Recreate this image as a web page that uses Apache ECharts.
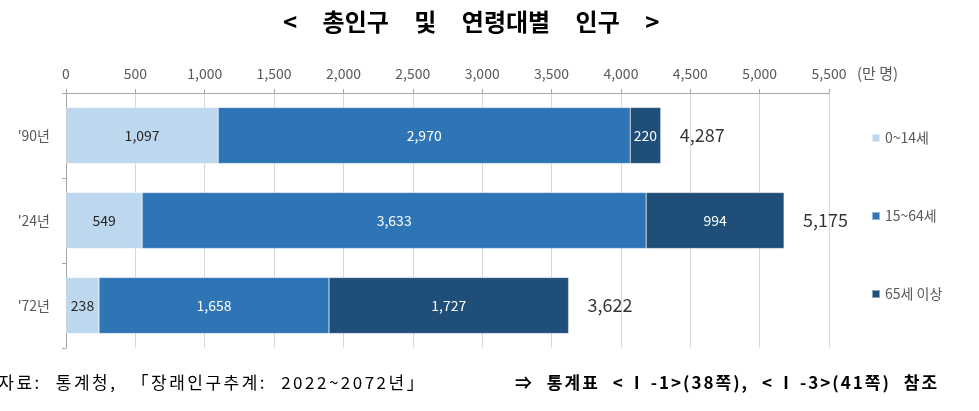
<!DOCTYPE html>
<html>
<head>
<meta charset="utf-8">
<script src="https://cdn.jsdelivr.net/npm/echarts@6/dist/echarts.min.js"></script>
<style>
  html, body { margin: 0; padding: 0; background: #fff; }
  #chart { width: 979px; height: 411px; }
</style>
</head>
<body>
<div id="chart"></div>
<script>
const years = ["'90년", "'24년", "'72년"];
const age0to14 = [1097, 549, 238];
const age15to64 = [2970, 3633, 1658];
const age65plus = [220, 994, 1727];
const totals = [4287, 5175, 3622];
const seriesNames = ['0~14세', '15~64세', '65세 이상'];
const xTicks = [0, 500, 1000, 1500, 2000, 2500, 3000, 3500, 4000, 4500, 5000, 5500];

const titleText = '< 총인구 및 연령대별 인구 >';
const sourceText = '자료: 통계청, 「장래인구추계: 2022~2072년」';
const refText = '⇒ 통계표 <Ⅰ-1>(38쪽), <Ⅰ-3>(41쪽) 참조';

const font = '"Noto Sans CJK KR", "Noto Sans", sans-serif';
const chart = echarts.init(document.getElementById('chart'));

// wrap every character in a rich token so the original's wide letter spacing can be copied
function spaced(text, wideChars) {
  return text.split('').map(ch => (wideChars.includes(ch) ? '{w|' : '{c|') + ch + '}').join('');
}

function barSeries(name, values, color, labelColor) {
  return {
    name: name,
    type: 'bar',
    stack: 'pop',
    barWidth: 56,
    data: values,
    itemStyle: { color: color, borderColor: 'rgba(255,255,255,0.5)', borderWidth: 0.5 },
    label: {
      show: true,
      position: 'inside',
      color: labelColor,
      fontFamily: font,
      fontSize: 14,
      formatter: p => p.value.toLocaleString('en-US')
    }
  };
}

const option = {
  animation: false,
  grid: { left: 66, right: 150, top: 93, bottom: 63 },
  legend: {
    data: seriesNames,
    orient: 'vertical',
    left: 866,
    top: 126,
    itemGap: 64,
    itemWidth: 8,
    itemHeight: 8,
    icon: 'rect',
    textStyle: { color: '#595959', fontSize: 14, fontFamily: font }
  },
  xAxis: {
    type: 'value',
    position: 'top',
    min: 0,
    max: 5500,
    interval: 500,
    axisLine: { show: true, lineStyle: { color: '#A6A6A6' } },
    axisTick: { show: true, length: 4, lineStyle: { color: '#A6A6A6' } },
    splitLine: { show: true, lineStyle: { color: '#D9D9D9' } },
    axisLabel: {
      color: '#595959',
      fontSize: 14,
      fontFamily: font,
      margin: 12,
      formatter: v => xTicks.includes(v) ? v.toLocaleString('en-US') : ''
    }
  },
  yAxis: {
    type: 'category',
    inverse: true,
    data: years,
    axisLine: { show: true, lineStyle: { color: '#A6A6A6' } },
    axisTick: { show: true, length: 4, lineStyle: { color: '#A6A6A6' } },
    axisLabel: { color: '#595959', fontSize: 14, fontFamily: font, margin: 16 }
  },
  series: [
    barSeries(seriesNames[0], age0to14, '#BDD7EE', '#262626'),
    barSeries(seriesNames[1], age15to64, '#2E75B6', '#ffffff'),
    barSeries(seriesNames[2], age65plus, '#1F4E79', '#ffffff'),
    {
      name: 'total',
      type: 'scatter',
      symbolSize: 0,
      data: totals.map((v, i) => [v, years[i]]),
      label: {
        show: true,
        position: 'right',
        distance: 19,
        color: '#000',
        fontSize: 18,
        fontFamily: font,
        formatter: p => p.value[0].toLocaleString('en-US')
      }
    }
  ],
  graphic: [
    {
      type: 'text',
      x: 283, y: 22,
      style: {
        text: spaced(titleText, ' '),
        verticalAlign: 'middle',
        rich: {
          c: { fontSize: 24, fontWeight: 'bold', fontFamily: font, fill: '#000' },
          w: { fontSize: 24, fontWeight: 'bold', fontFamily: font, fill: '#000', padding: [0, 10, 0, 10] }
        }
      }
    },
    {
      type: 'text',
      x: 857, y: 73,
      style: {
        text: '(만 명)',
        font: '15px ' + font,
        fill: '#595959',
        verticalAlign: 'middle'
      }
    },
    {
      type: 'text',
      x: -3, y: 383,
      style: {
        text: spaced(sourceText, ':,'),
        verticalAlign: 'middle',
        rich: {
          c: { fontSize: 17, fontFamily: font, fill: '#000', padding: [0, 1.25, 0, 1.25] },
          w: { fontSize: 17, fontFamily: font, fill: '#000', padding: [0, 9, 0, 1.25] }
        }
      }
    },
    {
      type: 'text',
      x: 514, y: 383,
      style: {
        text: spaced(refText, ' Ⅰ'),
        verticalAlign: 'middle',
        rich: {
          c: { fontSize: 17, fontWeight: 'bold', fontFamily: font, fill: '#000', padding: [0, 1, 0, 1] },
          w: { fontSize: 17, fontWeight: 'bold', fontFamily: font, fill: '#000', padding: [0, 4.5, 0, 4.5] }
        }
      }
    }
  ]
};

chart.setOption(option);
</script>
</body>
</html>
